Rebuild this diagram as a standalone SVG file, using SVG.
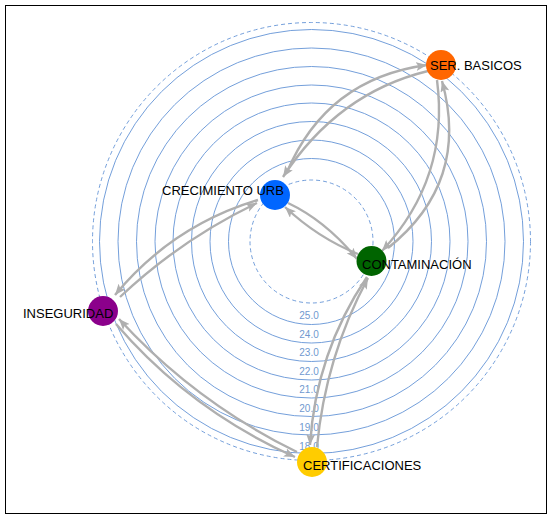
<svg xmlns="http://www.w3.org/2000/svg" width="552" height="518" viewBox="0 0 552 518">
<style>
.ring{fill:none;stroke:#6494d6;stroke-width:0.9}
.dash{fill:none;stroke:#6494d6;stroke-width:0.9;stroke-dasharray:4 3}
.rl{font-family:"Liberation Sans",Arial,sans-serif;font-size:10px;fill:#7099cf;text-anchor:middle}
.e{fill:none;stroke:#afafaf;stroke-width:2.4;marker-end:url(#ah)}
.lbl{font-family:"Liberation Sans",Arial,sans-serif;font-size:13px;fill:#000}
</style>
<defs>
<marker id="ah" markerUnits="userSpaceOnUse" markerWidth="12" markerHeight="9" refX="11" refY="4.5" orient="auto">
<path d="M0,0 L11,4.5 L0,9 L2.5,4.5 z" fill="#afafaf"/>
</marker>
</defs>
<rect x="5.5" y="5.5" width="541" height="508" fill="#fff" stroke="#000" stroke-width="1"/>
<g id="rings">
<circle class="dash" cx="311.5" cy="241.5" r="61.5"/>
<circle class="ring" cx="311.5" cy="241.5" r="83"/>
<circle class="ring" cx="311.5" cy="241.5" r="101.5"/>
<circle class="ring" cx="311.5" cy="241.5" r="120"/>
<circle class="ring" cx="311.5" cy="241.5" r="138.5"/>
<circle class="ring" cx="311.5" cy="241.5" r="156.5"/>
<circle class="ring" cx="311.5" cy="241.5" r="175"/>
<circle class="ring" cx="311.5" cy="241.5" r="193.5"/>
<circle class="ring" cx="311.5" cy="241.5" r="212"/>
<circle class="dash" cx="311.5" cy="241.5" r="219"/>
<text class="rl" x="309" y="318.5">25.0</text>
<text class="rl" x="309" y="337.5">24.0</text>
<text class="rl" x="309" y="356">23.0</text>
<text class="rl" x="309" y="374.5">22.0</text>
<text class="rl" x="309" y="393">21.0</text>
<text class="rl" x="309" y="412">20.0</text>
<text class="rl" x="309" y="431">19.0</text>
<text class="rl" x="309" y="449.5">18.0</text>
</g>
<g id="edges">
<path class="e" d="M287,172 Q326.6,78.7 427,65"/>
<path class="e" d="M428,71 Q337.6,93 283,177"/>
<path class="e" d="M388,248 Q470.2,182.4 442,81"/>
<path class="e" d="M437,80 Q449.8,177.9 382,251"/>
<path class="e" d="M288,203 Q326,221 357,259"/>
<path class="e" d="M358,254 Q318,238 285,207"/>
<path class="e" d="M258,200 Q172.1,225.8 115,295"/>
<path class="e" d="M120,297 Q181.1,239.3 257,203"/>
<path class="e" d="M116,324 Q190,410 295,457"/>
<path class="e" d="M297,452 Q195,402 119,319"/>
<path class="e" d="M367,277 Q315.8,352.7 310,445"/>
<path class="e" d="M317,447 Q325.3,357.3 368,278"/>
</g>
<g id="n-ser"><circle cx="441" cy="65" r="15" fill="#ff6600"/><text class="lbl" x="430" y="69.5">SER. BASICOS</text></g>
<g id="n-crec"><circle cx="275" cy="195" r="15" fill="#0066ff"/><text class="lbl" x="162" y="194.5">CRECIMIENTO URB</text></g>
<g id="n-cont"><circle cx="371.5" cy="261" r="15" fill="#006400"/><text class="lbl" x="362" y="269">CONTAMINACIÓN</text></g>
<g id="n-inseg"><circle cx="103" cy="311" r="15" fill="#8b008b"/><text class="lbl" x="23" y="317.5">INSEGURIDAD</text></g>
<g id="n-cert"><circle cx="312" cy="462" r="15" fill="#ffcc00"/><text class="lbl" x="303" y="470">CERTIFICACIONES</text></g>
</svg>
